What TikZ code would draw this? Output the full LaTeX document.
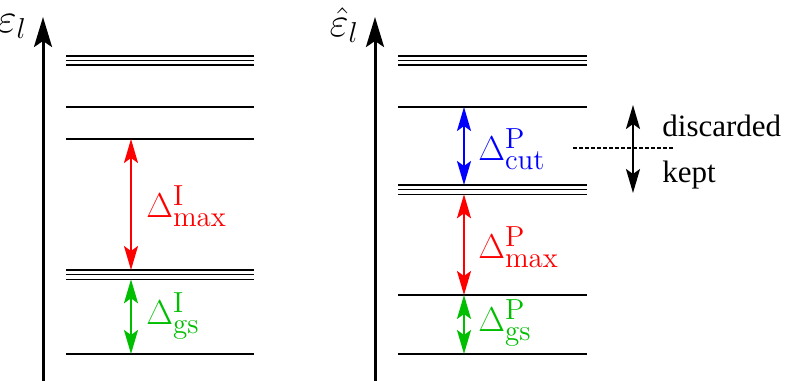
\documentclass[tikz,border=0pt]{standalone}
\usepackage{fontspec}
\newfontfamily\txtfont{Liberation Serif}
\usetikzlibrary{arrows.meta}
\definecolor{gsgreen}{RGB}{0,190,0}
\DeclareMathSizes{19}{19}{14.5}{12}

\begin{document}
\begin{tikzpicture}[x=0.5pt, y=-0.5pt,
  level/.style={line width=0.7pt},
  axis/.style={line width=1.5pt, -{Stealth[length=15pt,width=9pt,inset=3pt]}},
  gap/.style={line width=1pt,
    {Stealth[length=12pt,width=7pt,inset=2.5pt]}-{Stealth[length=12pt,width=7pt,inset=2.5pt]}},
  lab/.style={font=\fontsize{19}{22}\selectfont, anchor=west, inner sep=0pt},
  axlab/.style={font=\fontsize{21}{25}\selectfont, anchor=base east, inner sep=0pt},
  txt/.style={font=\txtfont\fontsize{15.5}{18}\selectfont, anchor=west, inner sep=0pt}]
\useasboundingbox (0,0) rectangle (789,381);
\coordinate (axI0) at (43,381);
\coordinate (axI1) at (43,17);
\coordinate (axP0) at (375,381);
\coordinate (axP1) at (375,17);
\draw[axis] (axI0) -- (axI1);
\draw[axis] (axP0) -- (axP1);
\node[axlab] (epsI) at (27,32) {$\varepsilon_l$};
\node[axlab] (epsP) at (359,36) {$\hat{\varepsilon}_l$};
\foreach \y in {56,60.5,65,107,139,270,274.7,279.3,354}
  \draw[level] (66,\y) -- (254,\y);
\foreach \y in {56,60.5,65,107,185,189.7,194.3,295,354}
  \draw[level] (398,\y) -- (587,\y);
\coordinate (Itop) at (131,139);
\coordinate (Ideg) at (131,270);
\coordinate (Ideg2) at (131,279.3);
\coordinate (Igs) at (131,354);
\coordinate (Pcut) at (464,107);
\coordinate (Pdeg) at (464,185);
\coordinate (Pdeg2) at (464,194.3);
\coordinate (Pexc) at (464,295);
\coordinate (Pgs) at (464,354);
\draw[gap, red] (Itop) -- (Ideg);
\draw[gap, gsgreen] (Ideg2) -- (Igs);
\draw[gap, blue] (Pcut) -- (Pdeg);
\draw[gap, red] (Pdeg2) -- (Pexc);
\draw[gap, gsgreen] (Pexc) -- (Pgs);
\node[lab, red] (maxI) at (146,206) {$\Delta^{\mathrm{I}}_{\mathrm{max}}$};
\node[lab, gsgreen] (gsI) at (146,316) {$\Delta^{\mathrm{I}}_{\mathrm{gs}}$};
\node[lab, blue] (cutP) at (478,149) {$\Delta^{\mathrm{P}}_{\mathrm{cut}}$};
\node[lab, red] (maxP) at (478,247) {$\Delta^{\mathrm{P}}_{\mathrm{max}}$};
\node[lab, gsgreen] (gsP) at (478,323) {$\Delta^{\mathrm{P}}_{\mathrm{gs}}$};
\coordinate (cutL) at (573,148);
\coordinate (cutR) at (673,148);
\coordinate (up) at (633,105);
\coordinate (down) at (633,193);
\draw[line width=0.7pt, dash pattern=on 2pt off 1pt] (cutL) -- (cutR);
\draw[gap] (up) -- (down);
\node[txt] (disc) at (662,125.5) {discarded};
\node[txt] (kept) at (662,175) {kept};
\end{tikzpicture}
\end{document}
